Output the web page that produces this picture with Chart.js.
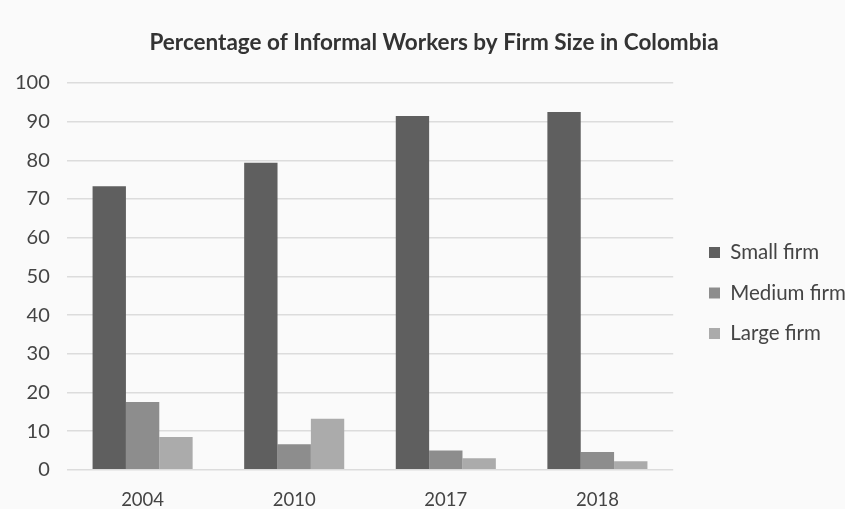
<!DOCTYPE html>
<html>
<head>
<meta charset="utf-8">
<script src="https://cdn.jsdelivr.net/npm/chart.js@4.4.0/dist/chart.umd.min.js"></script>
<style>
  html, body { margin: 0; padding: 0; background: #fafafa; }
  #wrap { width: 845px; height: 509px; }
</style>
</head>
<body>
<div id="wrap"><canvas id="myChart" width="845" height="509"></canvas></div>
<script>
const years = ['2004', '2010', '2017', '2018'];
const smallFirm = [73.3, 79.4, 91.5, 92.5];
const mediumFirm = [17.5, 6.6, 5.0, 4.6];
const largeFirm = [8.5, 13.2, 3.0, 2.2];
const yTicks = [0, 10, 20, 30, 40, 50, 60, 70, 80, 90, 100];

const bg = {
    id: 'bg',
    beforeDraw: (chart) => {
        const ctx = chart.ctx;
        ctx.save();
        ctx.fillStyle = '#fafafa';
        ctx.fillRect(0, 0, chart.width, chart.height);
        ctx.restore();
    }
};

// nudge legend and title so they sit like the original
const nudge = {
    id: 'nudge',
    afterLayout: (chart) => {
        const lg = chart.legend;
        const dx = 689 - lg.left;
        lg.left += dx; lg.right += dx;
        lg.top += 21; lg.bottom += 21;
        const tb = chart.titleBlock;
        tb.left += 15; tb.right += 15;
    }
};

const data = {
    labels: years,
    datasets: [{
            label: 'Small firm',
            backgroundColor: '#5f5f5f',
            data: smallFirm
        },
        {
            label: 'Medium firm',
            backgroundColor: '#8d8d8d',
            data: mediumFirm
        },
        {
            label: 'Large firm',
            backgroundColor: '#ababab',
            data: largeFirm
        }]
};

const config = {
    type: 'bar',
    data: data,
    plugins: [bg, nudge],
    options: {
        responsive: false,
        animation: false,
        layout: { padding: { left: -2, right: 5, top: 14, bottom: -21 } },
        datasets: {
            bar: { barPercentage: 1, categoryPercentage: 0.66 }
        },
        plugins: {
            title: {
                display: true,
                text: 'Percentage of Informal Workers by Firm Size in Colombia',
                color: '#333',
                font: { family: 'Lato', size: 22.5, weight: 'bold' },
                padding: { top: 15, bottom: 27 }
            },
            legend: {
                position: 'right',
                labels: {
                    color: '#444',
                    font: { family: 'Lato', size: 20.5 },
                    boxWidth: 11,
                    boxHeight: 11,
                    padding: 20
                }
            },
            tooltip: { enabled: false }
        },
        scales: {
            x: {
                grid: { display: false, drawTicks: false },
                border: { display: false },
                ticks: {
                    color: '#444',
                    font: { family: 'Lato', size: 18.5 },
                    padding: 19
                }
            },
            y: {
                min: 0,
                max: 100,
                afterBuildTicks: (axis) => { axis.ticks = yTicks.map(v => ({ value: v })); },
                grid: { color: '#dcdcdc', lineWidth: 1.5, drawTicks: false },
                border: { display: false },
                ticks: {
                    color: '#444',
                    font: { family: 'Lato', size: 20 },
                    padding: 17
                }
            }
        }
    }
};

const myChart = new Chart(document.getElementById('myChart'), config);
</script>
</body>
</html>
